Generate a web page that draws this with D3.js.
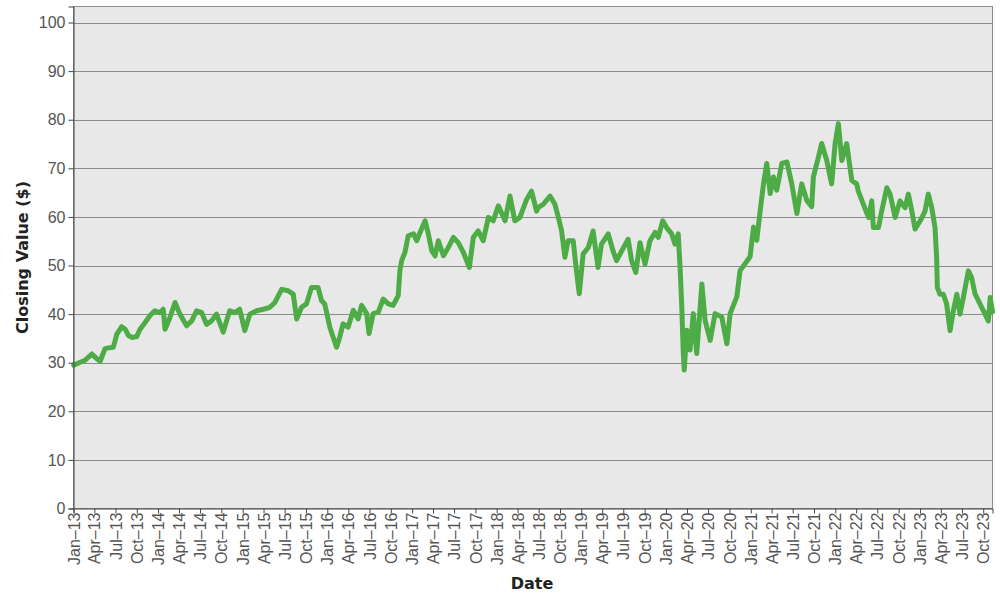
<!DOCTYPE html>
<html>
<head>
<meta charset="utf-8">
<script src="https://cdn.jsdelivr.net/npm/d3@7"></script>
<style>
  html, body { margin: 0; padding: 0; background: #ffffff; }
  svg { display: block; }
</style>
</head>
<body>
<svg id="chart" width="1000" height="600"></svg>
<script>
// ---- data ----
const dates = [
"2013-01-02","2013-01-30","2013-02-20","2013-03-21","2013-04-12","2013-04-26","2013-05-17","2013-06-08","2013-06-22","2013-07-07",
"2013-07-28","2013-08-12","2013-08-26","2013-09-10","2013-10-01","2013-10-15","2013-11-06","2013-11-27","2013-12-18","2014-01-09",
"2014-01-23","2014-01-31","2014-02-21","2014-03-15","2014-04-05","2014-05-04","2014-05-26","2014-06-16","2014-07-08","2014-07-29",
"2014-08-20","2014-09-10","2014-10-09","2014-11-06","2014-11-28","2014-12-19","2015-01-10","2015-02-01","2015-03-02","2015-03-31",
"2015-04-28","2015-05-20","2015-06-18","2015-07-16","2015-08-07","2015-08-22","2015-09-12","2015-10-03","2015-10-25","2015-11-22",
"2015-12-07","2015-12-21","2016-01-12","2016-01-26","2016-02-10","2016-02-24","2016-03-09","2016-03-31","2016-04-22","2016-05-13",
"2016-05-28","2016-06-19","2016-06-29","2016-07-17","2016-08-08","2016-08-29","2016-09-20","2016-10-11","2016-11-02","2016-11-09",
"2016-11-17","2016-12-01","2016-12-15","2017-01-07","2017-01-21","2017-02-04","2017-02-26","2017-03-12","2017-03-27","2017-04-10",
"2017-04-24","2017-05-16","2017-06-06","2017-06-28","2017-07-19","2017-08-10","2017-09-05","2017-09-22","2017-10-13","2017-11-04",
"2017-11-26","2017-12-17","2018-01-08","2018-02-06","2018-02-27","2018-03-20","2018-04-11","2018-05-10","2018-05-31","2018-06-22",
"2018-06-29","2018-07-21","2018-08-19","2018-09-09","2018-09-24","2018-10-08","2018-10-22","2018-11-05","2018-11-27","2018-12-11",
"2018-12-23","2019-01-09","2019-01-31","2019-02-21","2019-03-14","2019-03-29","2019-04-27","2019-05-18","2019-06-02","2019-06-24",
"2019-07-22","2019-08-06","2019-08-24","2019-09-11","2019-10-03","2019-10-24","2019-11-15","2019-11-29","2019-12-18","2020-01-04",
"2020-01-26","2020-02-09","2020-02-23","2020-03-02","2020-03-09","2020-03-16","2020-03-20","2020-03-31","2020-04-14","2020-04-28",
"2020-05-13","2020-06-04","2020-06-18","2020-07-10","2020-07-31","2020-08-29","2020-09-20","2020-10-04","2020-11-02","2020-11-16",
"2020-12-08","2020-12-29","2021-01-13","2021-01-27","2021-02-11","2021-02-25","2021-03-11","2021-03-26","2021-04-09","2021-04-23",
"2021-05-15","2021-06-06","2021-06-27","2021-07-19","2021-08-09","2021-08-31","2021-09-21","2021-09-28","2021-10-20","2021-11-03",
"2021-11-25","2021-12-16","2021-12-31","2022-01-14","2022-01-29","2022-02-19","2022-03-13","2022-04-03","2022-04-10","2022-05-02",
"2022-05-24","2022-06-07","2022-06-14","2022-07-06","2022-07-20","2022-08-11","2022-08-25","2022-09-16","2022-10-07","2022-10-29",
"2022-11-12","2022-11-27","2022-12-11","2023-01-02","2023-01-23","2023-02-06","2023-02-21","2023-03-07","2023-03-14","2023-03-17",
"2023-03-28","2023-04-12","2023-04-26","2023-05-11","2023-05-25","2023-06-09","2023-06-23","2023-07-07","2023-07-29","2023-08-12",
"2023-08-27","2023-09-17","2023-10-09","2023-10-23","2023-10-31","2023-11-10"
];
const closes = [
29.5,30.1,30.5,31.8,30.8,30.3,32.9,33.1,33.2,35.9,
37.4,36.9,35.6,35.2,35.4,36.9,38.3,39.7,40.7,40.3,
41.0,36.9,39.3,42.4,40.0,37.6,38.6,40.7,40.3,37.9,
38.6,40.0,36.3,40.7,40.3,41.0,36.6,40.0,40.7,41.0,
41.4,42.4,45.1,44.8,44.1,39.0,41.4,42.1,45.5,45.5,
42.8,42.1,37.3,35.3,33.2,35.3,38.0,37.3,40.8,39.0,
41.8,40.1,36.0,40.1,40.4,43.1,42.1,41.8,43.8,48.9,
51.0,52.7,56.1,56.5,55.1,56.8,59.2,56.5,53.0,52.0,
55.1,52.0,53.7,55.8,54.7,52.7,49.6,55.8,57.1,55.1,
59.9,59.2,62.3,59.2,64.3,59.2,59.9,63.6,65.3,61.2,
61.9,62.6,64.3,62.6,59.9,57.1,51.7,55.1,55.1,48.9,
44.2,52.4,53.7,57.1,49.6,54.4,56.5,53.0,51.0,53.0,
55.4,51.0,48.6,54.7,50.3,55.1,56.8,55.8,59.2,57.8,
56.5,54.4,56.5,49.6,42.1,31.9,28.5,36.7,32.6,40.1,
31.9,46.2,38.7,34.6,40.1,39.4,33.9,40.1,43.6,49.0,
50.4,51.8,57.9,55.2,61.4,66.8,71.0,64.8,68.2,65.5,
71.0,71.3,66.8,60.7,66.8,63.4,62.1,68.2,72.3,75.1,
71.6,66.8,75.1,79.2,71.6,75.1,67.5,66.8,65.3,62.6,
59.9,63.3,57.8,57.8,61.2,66.0,64.7,59.9,63.3,61.9,
64.7,61.2,57.5,59.2,61.2,64.7,61.9,57.8,51.6,45.5,
44.1,44.1,42.1,36.6,40.7,44.1,40.0,43.4,48.9,47.5,
44.1,42.1,40.0,38.6,43.4,40.5
];
const yTicks = [0,10,20,30,40,50,60,70,80,90,100];
const xDomain = ["2013-01-01","2023-11-10"];
const yDomain = [0, 103.3];
const xTitle = "Date";
const yTitle = "Closing Value ($)";

// ---- drawing ----
const parse = d3.timeParse("%Y-%m-%d");
const data = dates.map((d, i) => ({ date: parse(d), value: closes[i] }));

const L = 73.5, R = 992.5, T = 6.5, B = 508.5;
const svg = d3.select("#chart");

const x = d3.scaleTime().domain(xDomain.map(parse)).range([L, R]);
const y = d3.scaleLinear().domain(yDomain).range([B, T]);

const tickFont = "'Liberation Sans', Arial, sans-serif";
const titleFont = "'DejaVu Sans', sans-serif";

// plot background
svg.append("rect")
  .attr("x", L).attr("y", T).attr("width", R - L).attr("height", B - T)
  .attr("fill", "#e8e8e8");

// gridlines
svg.append("g").selectAll("line").data(yTicks.filter(v => v > 0)).join("line")
  .attr("x1", L).attr("x2", R)
  .attr("y1", d => Math.round(y(d)) + 0.5).attr("y2", d => Math.round(y(d)) + 0.5)
  .attr("stroke", "#8c8c8c").attr("stroke-width", 1);

// border (top/right)
svg.append("rect")
  .attr("x", L).attr("y", T).attr("width", R - L).attr("height", B - T)
  .attr("fill", "none").attr("stroke", "#8c8c8c").attr("stroke-width", 1);

// line
const line = d3.line().x(d => x(d.date)).y(d => y(d.value));
svg.append("path")
  .datum(data)
  .attr("d", line)
  .attr("fill", "none")
  .attr("stroke", "#4dac45")
  .attr("stroke-width", 5)
  .attr("stroke-linejoin", "round")
  .attr("stroke-linecap", "round");

// y axis
const yAxis = svg.append("g")
  .attr("transform", `translate(${L},0)`)
  .call(d3.axisLeft(y).tickValues(yTicks).tickSize(5).tickPadding(3));
yAxis.select(".domain").attr("stroke", "#444");
yAxis.selectAll(".tick line").attr("stroke", "#444");
yAxis.selectAll("text")
  .attr("fill", "#555")
  .style("font-family", tickFont)
  .style("font-size", "16px");

// x axis
const xAxis = svg.append("g")
  .attr("transform", `translate(0,${B})`)
  .call(d3.axisBottom(x).ticks(d3.timeMonth.every(3)).tickFormat(d3.timeFormat("%b–%y")).tickSize(5).tickPadding(3));
xAxis.select(".domain").attr("stroke", "#444");
xAxis.selectAll(".tick line").attr("stroke", "#444");
xAxis.selectAll("text")
  .attr("fill", "#555")
  .style("font-family", tickFont)
  .style("font-size", "16px")
  .attr("text-anchor", "end")
  .attr("dy", "0.35em")
  .attr("transform", "rotate(-90)")
  .attr("x", -4)
  .attr("y", 0);

// titles
svg.append("text")
  .attr("x", (L + R) / 2 - 1).attr("y", 589)
  .attr("text-anchor", "middle")
  .attr("fill", "#222")
  .style("font-family", titleFont)
  .style("font-weight", "bold")
  .style("font-size", "16px")
  .text(xTitle);

svg.append("text")
  .attr("transform", `translate(28,${(T + B) / 2}) rotate(-90)`)
  .attr("text-anchor", "middle")
  .attr("fill", "#222")
  .style("font-family", titleFont)
  .style("font-weight", "bold")
  .style("font-size", "16px")
  .text(yTitle);
</script>
</body>
</html>
